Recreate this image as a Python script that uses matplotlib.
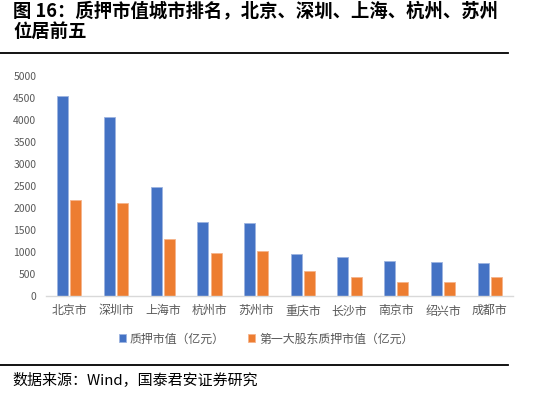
import matplotlib
matplotlib.use('Agg')
import matplotlib.pyplot as plt
import numpy as np
from matplotlib.lines import Line2D

plt.rcParams['font.family'] = ['Noto Sans CJK SC', 'DejaVu Sans']

cities = ['北京市', '深圳市', '上海市', '杭州市', '苏州市',
          '重庆市', '长沙市', '南京市', '绍兴市', '成都市']
pledge_value = [4540, 4060, 2470, 1675, 1650, 957, 882, 792, 776, 753]
top_holder_value = [2175, 2105, 1300, 973, 1025, 566, 440, 308, 324, 440]
series_names = ['质押市值（亿元）', '第一大股东质押市值（亿元）']
yticks = [0, 500, 1000, 1500, 2000, 2500, 3000, 3500, 4000, 4500, 5000]

blue = '#4472C4'
orange = '#ED7D31'
gray = '#595959'

fig = plt.figure(figsize=(5.43, 3.98), dpi=100)

# title and frame lines
fig.text(13/543, 1-11/398, '图 16：质押市值城市排名，北京、深圳、上海、杭州、苏州',
         fontsize=13.2, fontweight='bold', va='center', ha='left', color='black')
fig.text(13/543, 1-31.5/398, '位居前五',
         fontsize=13.2, fontweight='bold', va='center', ha='left', color='black')
fig.add_artist(Line2D([0, 508/543], [1-52.5/398, 1-52.5/398], color='black', lw=1.3))
fig.add_artist(Line2D([0, 508/543], [1-364.5/398, 1-364.5/398], color='black', lw=1.3))
fig.text(12/543, 1-380/398, '数据来源：Wind，国泰君安证券研究',
         fontsize=10.8, va='center', ha='left', color='black')

ax = fig.add_axes([46/543, 1-296/398, 467/543, 220.5/398])
x = np.arange(len(cities))
w = 0.235
ax.bar(x - 0.142, pledge_value, w, color=blue, edgecolor='#9DB4E0', linewidth=0.6,
       label=series_names[0])
ax.bar(x + 0.142, top_holder_value, w, color=orange, edgecolor='#F5B48C', linewidth=0.6,
       label=series_names[1])

ax.set_xlim(-0.5, len(cities) - 0.5)
ax.set_ylim(0, 5000)
ax.set_yticks(yticks)
ax.set_yticklabels([str(v) for v in yticks], fontsize=7.5, color=gray)
ax.set_xticks(x)
ax.set_xticklabels(cities, fontsize=8.6, color=gray)
ax.tick_params(axis='both', length=0)
ax.tick_params(axis='y', pad=7)
ax.tick_params(axis='x', pad=6)
for s in ['top', 'right', 'left']:
    ax.spines[s].set_visible(False)
ax.spines['bottom'].set_color('#D9D9D9')
ax.spines['bottom'].set_linewidth(1)

leg = fig.legend(loc='center', bbox_to_anchor=(266/543, 1-339/398), ncol=2,
                 frameon=False, fontsize=8.6, handlelength=0.6, handleheight=0.6,
                 handletextpad=0.3, columnspacing=2.0)
for t in leg.get_texts():
    t.set_color(gray)

plt.savefig('out.png', dpi=100)
